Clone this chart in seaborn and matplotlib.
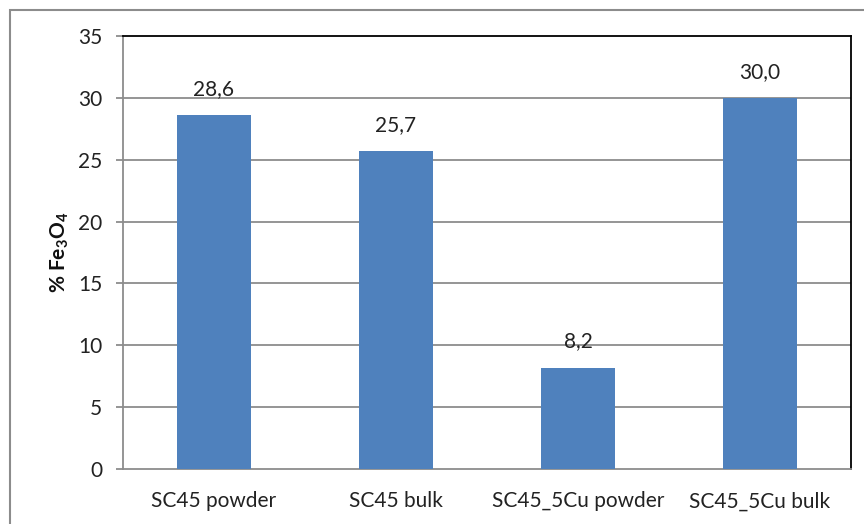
import matplotlib
matplotlib.use("Agg")
import matplotlib.pyplot as plt
import seaborn as sns
import pandas as pd
from matplotlib.patches import Rectangle

categories = ["SC45 powder", "SC45 bulk", "SC45_5Cu powder", "SC45_5Cu bulk"]
values = [28.6, 25.7, 8.2, 30.0]
yticks = [0, 5, 10, 15, 20, 25, 30, 35]

sns.set_theme(style="white")
plt.rcParams['font.family'] = ['Lato', 'DejaVu Sans']
plt.rcParams['mathtext.fontset'] = 'custom'
plt.rcParams['mathtext.rm'] = 'Lato:bold'
plt.rcParams['mathtext.bf'] = 'Lato:bold'

df = pd.DataFrame({"cat": categories, "val": values})

fig = plt.figure(figsize=(8.64, 5.24), dpi=100)
ax = fig.add_axes([123/864, 1-469/524, (851-123)/864, (469-36)/524])

sns.barplot(data=df, x="cat", y="val", color="#4F81BD", width=0.41, saturation=1,
            linewidth=0, edgecolor="none", ax=ax, zorder=3)

ax.set_xlim(-0.5, 3.5)
ax.set_ylim(0, 35)
ax.set_yticks(yticks)
ax.set_yticklabels([str(t) for t in yticks], fontsize=15, color="#222222")
for t in yticks[1:-1]:
    ax.axhline(t, color="#8C8C8C", lw=1.3, zorder=1)

ax.set_xticks(range(len(categories)))
ax.set_xticklabels(categories, fontsize=15, color="#222222")
ax.tick_params(axis="x", which="major", length=0, pad=16)
ax.set_xticks([-0.5, 0.5, 1.5, 2.5, 3.5], minor=True)
ax.tick_params(axis="x", which="minor", length=5, color="#8C8C8C", width=1.3, direction="out")
ax.tick_params(axis="y", length=5, color="#8C8C8C", width=1.3, direction="out", left=True, pad=10)
ax.set_xlabel("")
ax.set_ylabel("% Fe$_\\mathbf{3}$O$_\\mathbf{4}$", fontsize=15, fontweight="bold", labelpad=5,
              color="#111111")

for s in ["left", "bottom"]:
    ax.spines[s].set_color("#8C8C8C")
    ax.spines[s].set_linewidth(1.3)
for s in ["top", "right"]:
    ax.spines[s].set_color("#000000")
    ax.spines[s].set_linewidth(1.3)

for i, v in enumerate(values):
    ax.text(i, v + 1.3, f"{v:.1f}".replace(".", ","), ha="center", va="bottom", fontsize=15, color="#222222")

fig.patches.append(Rectangle((10/864, -0.1), 1.2, 1 - 10/524 + 0.1, transform=fig.transFigure,
                             fill=False, edgecolor="#8C8C8C", lw=1.5))

fig.savefig("out.png", dpi=100)
